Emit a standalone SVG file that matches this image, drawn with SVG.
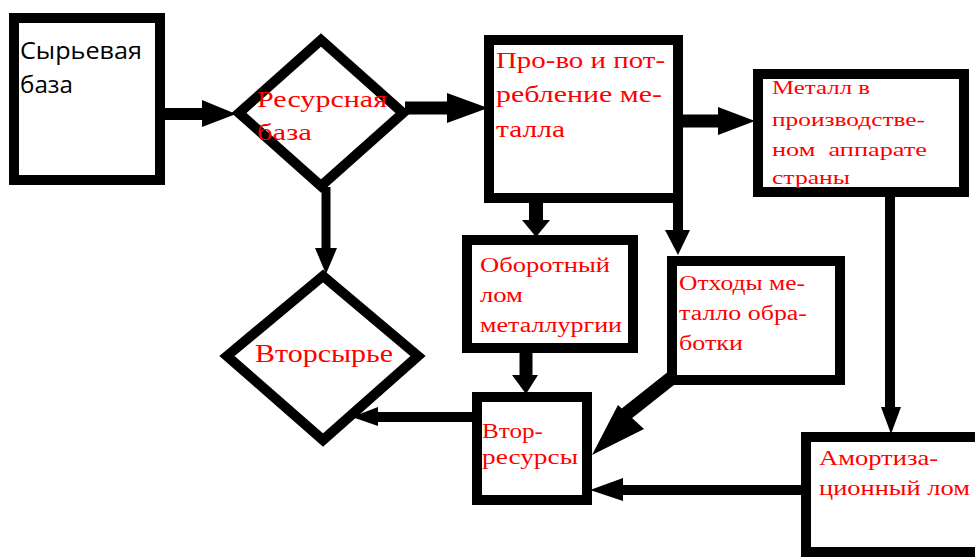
<svg xmlns="http://www.w3.org/2000/svg" width="975" height="557" viewBox="0 0 975 557">
<style>
.box{fill:#fff;stroke:#000;stroke-width:10;stroke-linejoin:miter}
.dia{fill:#fff;stroke:#000;stroke-width:10;stroke-linejoin:miter}
.ln{stroke:#000;fill:none}
.ah{fill:#000;stroke:none}
.rt{font-family:"Liberation Serif","Times New Roman",serif;fill:#ff0000}
.bt{font-family:"Open Sans","Liberation Sans",sans-serif;fill:#000}
</style>
<rect width="975" height="557" fill="#fff"/>
<g id="connectors">
  <line class="ln" x1="165" y1="114" x2="205" y2="114" stroke-width="12"/>
  <polygon class="ah" points="202,100 236,114 202,127"/>
  <line class="ln" x1="405" y1="108" x2="450" y2="108" stroke-width="13"/>
  <polygon class="ah" points="447,93 488,108 447,123"/>
  <line class="ln" x1="683" y1="121" x2="720" y2="121" stroke-width="13"/>
  <polygon class="ah" points="718,107 755,121 718,135"/>
  <line class="ln" x1="326" y1="187" x2="326" y2="250" stroke-width="9"/>
  <polygon class="ah" points="315,248 337,248 326,274"/>
  <line class="ln" x1="536" y1="198" x2="536" y2="222" stroke-width="14"/>
  <polygon class="ah" points="522,220 550,220 536,237"/>
  <line class="ln" x1="678" y1="198" x2="678" y2="232" stroke-width="10"/>
  <polygon class="ah" points="665,230 690,230 678,255"/>
  <line class="ln" x1="526" y1="348" x2="526" y2="377" stroke-width="13"/>
  <polygon class="ah" points="512,375 538,375 526,394"/>
  <line class="ln" x1="890" y1="192" x2="890" y2="409" stroke-width="10"/>
  <polygon class="ah" points="881,407 901,407 891,434"/>
  <line class="ln" x1="472" y1="417" x2="375" y2="417" stroke-width="10"/>
  <polygon class="ah" points="378,407 378,426 352,417"/>
  <line class="ln" x1="801" y1="490" x2="620" y2="490" stroke-width="10"/>
  <polygon class="ah" points="623,478 623,501 590,490"/>
  <line class="ln" x1="674" y1="376" x2="626" y2="414" stroke-width="14"/>
  <polygon class="ah" points="618,405 644,429 592,455"/>
</g>
<g id="syrievaya-baza">
  <rect class="box" x="14" y="18" width="146" height="162"/>
  <text class="bt" font-size="23"><tspan x="20" y="59" textLength="122" lengthAdjust="spacingAndGlyphs">Сырьевая</tspan><tspan x="20" y="93" textLength="53" lengthAdjust="spacingAndGlyphs">база</tspan></text>
</g>
<g id="resursnaya-baza">
  <polygon class="dia" points="321,40 403,113 321,186 239,113"/>
  <text class="rt" font-size="24"><tspan x="257" y="107" textLength="130" lengthAdjust="spacingAndGlyphs">Ресурсная</tspan><tspan x="257" y="140" textLength="55" lengthAdjust="spacingAndGlyphs">база</tspan></text>
</g>
<g id="proizvodstvo">
  <rect class="box" x="489" y="40" width="189" height="158"/>
  <text class="rt" font-size="24"><tspan x="496" y="68" textLength="169" lengthAdjust="spacingAndGlyphs">Про-во и пот-</tspan><tspan x="496" y="102" textLength="166" lengthAdjust="spacingAndGlyphs">ребление ме-</tspan><tspan x="496" y="137" textLength="69" lengthAdjust="spacingAndGlyphs">талла</tspan></text>
</g>
<g id="metall-v-proizvodstve">
  <rect class="box" x="758" y="74" width="206" height="118"/>
  <text class="rt" font-size="19"><tspan x="772" y="94" textLength="98" lengthAdjust="spacingAndGlyphs">Металл в</tspan><tspan x="772" y="126" textLength="153" lengthAdjust="spacingAndGlyphs">производстве-</tspan><tspan x="772" y="156" textLength="155" lengthAdjust="spacingAndGlyphs" xml:space="preserve">ном  аппарате</tspan><tspan x="772" y="184" textLength="78" lengthAdjust="spacingAndGlyphs">страны</tspan></text>
</g>
<g id="oborotny-lom">
  <rect class="box" x="467" y="240" width="166" height="108"/>
  <text class="rt" font-size="20"><tspan x="480" y="272" textLength="130" lengthAdjust="spacingAndGlyphs">Оборотный</tspan><tspan x="480" y="302" textLength="43" lengthAdjust="spacingAndGlyphs">лом</tspan><tspan x="480" y="332" textLength="142" lengthAdjust="spacingAndGlyphs">металлургии</tspan></text>
</g>
<g id="othody">
  <rect class="box" x="672" y="261" width="168" height="119"/>
  <text class="rt" font-size="20"><tspan x="679" y="290" textLength="126" lengthAdjust="spacingAndGlyphs">Отходы ме-</tspan><tspan x="679" y="320" textLength="128" lengthAdjust="spacingAndGlyphs">талло обра-</tspan><tspan x="679" y="350" textLength="64" lengthAdjust="spacingAndGlyphs">ботки</tspan></text>
</g>
<g id="vtorsyrie">
  <polygon class="dia" points="323,276 418,356 323,440 227,356"/>
  <text class="rt" font-size="26" x="255" y="362" textLength="138" lengthAdjust="spacingAndGlyphs">Вторсырье</text>
</g>
<g id="vtor-resursy">
  <rect class="box" x="477" y="397" width="110" height="103"/>
  <text class="rt" font-size="22"><tspan x="482" y="438" textLength="61" lengthAdjust="spacingAndGlyphs">Втор-</tspan><tspan x="482" y="464" textLength="96" lengthAdjust="spacingAndGlyphs">ресурсы</tspan></text>
</g>
<g id="amortizatsionny-lom">
  <rect class="box" x="806" y="437" width="185" height="115"/>
  <text class="rt" font-size="21"><tspan x="819" y="465" textLength="119" lengthAdjust="spacingAndGlyphs">Амортиза-</tspan><tspan x="819" y="495" textLength="151" lengthAdjust="spacingAndGlyphs">ционный лом</tspan></text>
</g>
</svg>
